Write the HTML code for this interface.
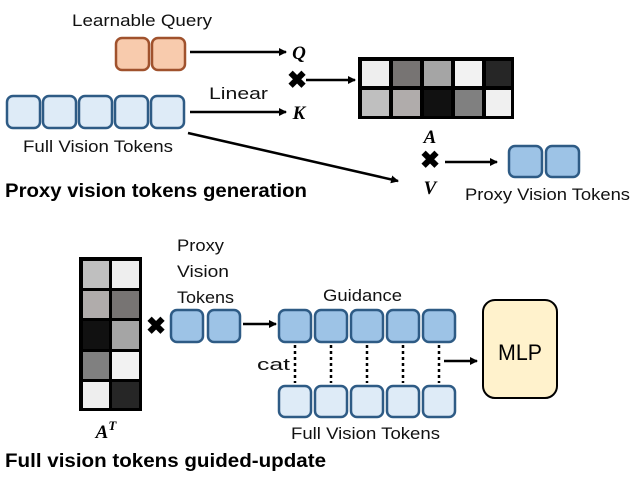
<!DOCTYPE html>
<html><head><meta charset="utf-8"><style>body{margin:0;background:#fff}</style></head><body>
<svg width="640" height="480" xmlns="http://www.w3.org/2000/svg" font-family="Liberation Sans, sans-serif">
<defs><marker id="ar" markerWidth="8" markerHeight="8" refX="7" refY="4" orient="auto" markerUnits="userSpaceOnUse"><path d="M0,0 L8,4 L0,8 z" fill="#000"/></marker></defs>
<g stroke="#000" stroke-width="2.5" fill="none" marker-end="url(#ar)">
<line x1="190" y1="52" x2="286" y2="52"/>
<line x1="190" y1="112" x2="286" y2="112"/>
<line x1="306" y1="80" x2="355" y2="80"/>
<line x1="188" y1="133" x2="398" y2="181"/>
<line x1="445" y1="162" x2="497" y2="162"/>
<line x1="243" y1="324" x2="276" y2="324"/>
<line x1="444" y1="361" x2="477" y2="361"/>
</g>
<g fill="#f8cbad" stroke="#a0522d" stroke-width="2.5">
<rect x="116" y="38" width="33" height="32" rx="6"/><rect x="152" y="38" width="33" height="32" rx="6"/></g>
<g fill="#deebf7" stroke="#2e5b85" stroke-width="2.5">
<rect x="7" y="96" width="33" height="32" rx="6"/><rect x="43" y="96" width="33" height="32" rx="6"/><rect x="79" y="96" width="33" height="32" rx="6"/><rect x="115" y="96" width="33" height="32" rx="6"/><rect x="151" y="96" width="33" height="32" rx="6"/>
<rect x="279" y="386" width="32" height="31" rx="6"/><rect x="315" y="386" width="32" height="31" rx="6"/><rect x="351" y="386" width="32" height="31" rx="6"/><rect x="387" y="386" width="32" height="31" rx="6"/><rect x="423" y="386" width="32" height="31" rx="6"/></g>
<g fill="#9dc3e6" stroke="#2e5b85" stroke-width="2.5">
<rect x="509" y="146" width="33" height="31" rx="6"/><rect x="546" y="146" width="33" height="31" rx="6"/>
<rect x="171" y="310" width="32" height="32" rx="6"/><rect x="208" y="310" width="32" height="32" rx="6"/>
<rect x="279" y="310" width="32" height="32" rx="6"/><rect x="315" y="310" width="32" height="32" rx="6"/><rect x="351" y="310" width="32" height="32" rx="6"/><rect x="387" y="310" width="32" height="32" rx="6"/><rect x="423" y="310" width="32" height="32" rx="6"/></g>
<g stroke="#000" stroke-width="2.5" stroke-dasharray="3,3">
<line x1="295" y1="345" x2="295" y2="383"/><line x1="331" y1="345" x2="331" y2="383"/><line x1="367" y1="345" x2="367" y2="383"/><line x1="403" y1="345" x2="403" y2="383"/><line x1="439" y1="345" x2="439" y2="383"/></g>
<rect x="358" y="57" width="156" height="62" fill="#000"/>
<g>
<rect x="362" y="61" width="27" height="25" fill="#eeeeee"/><rect x="393" y="61" width="27" height="25" fill="#777473"/><rect x="424" y="61" width="27" height="25" fill="#a5a5a5"/><rect x="455" y="61" width="27" height="25" fill="#f2f2f2"/><rect x="486" y="61" width="25" height="25" fill="#262626"/>
<rect x="362" y="90" width="27" height="26" fill="#bfbfbf"/><rect x="393" y="90" width="27" height="26" fill="#b0acab"/><rect x="424" y="90" width="27" height="26" fill="#111"/><rect x="455" y="90" width="27" height="26" fill="#808080"/><rect x="486" y="90" width="25" height="26" fill="#f0f0f0"/></g>
<rect x="79" y="257" width="63" height="154" fill="#000"/>
<rect x="83" y="261" width="26" height="27" fill="#bfbfbf"/><rect x="112" y="261" width="27" height="27" fill="#eeeeee"/>
<rect x="83" y="291" width="26" height="27" fill="#b0acab"/><rect x="112" y="291" width="27" height="27" fill="#777473"/>
<rect x="83" y="321" width="26" height="28" fill="#111"/><rect x="112" y="321" width="27" height="28" fill="#a5a5a5"/>
<rect x="83" y="352" width="26" height="27" fill="#808080"/><rect x="112" y="352" width="27" height="27" fill="#f2f2f2"/>
<rect x="83" y="382" width="26" height="26" fill="#eeeeee"/><rect x="112" y="382" width="27" height="26" fill="#262626"/>
<rect x="483" y="300" width="74" height="98" rx="12" fill="#fff2cc" stroke="#000" stroke-width="2"/>
<text x="498" y="360" font-size="22" textLength="44" lengthAdjust="spacingAndGlyphs">MLP</text>
<g font-size="24" font-weight="bold" text-anchor="middle">
<text x="297" y="88">✖</text><text x="430" y="168">✖</text><text x="156" y="334">✖</text></g>
<g font-family="Liberation Serif, serif" font-style="italic" font-weight="bold" font-size="19" text-anchor="middle">
<text x="299" y="59">Q</text><text x="299" y="119">K</text><text x="430" y="143">A</text><text x="430" y="194">V</text>
<text x="106" y="438">A<tspan font-size="13" dy="-8">T</tspan></text></g>
<g font-size="17" fill="#111" lengthAdjust="spacingAndGlyphs">
<text x="72" y="26" textLength="140" lengthAdjust="spacingAndGlyphs">Learnable Query</text>
<text x="209" y="99" textLength="59" lengthAdjust="spacingAndGlyphs">Linear</text>
<text x="23" y="152" textLength="150" lengthAdjust="spacingAndGlyphs">Full Vision Tokens</text>
<text x="465" y="200" textLength="165" lengthAdjust="spacingAndGlyphs">Proxy Vision Tokens</text>
<text x="177" y="251" textLength="47" lengthAdjust="spacingAndGlyphs">Proxy</text><text x="177" y="277" textLength="52" lengthAdjust="spacingAndGlyphs">Vision</text><text x="177" y="303" textLength="57" lengthAdjust="spacingAndGlyphs">Tokens</text>
<text x="323" y="301" textLength="79" lengthAdjust="spacingAndGlyphs">Guidance</text>
<text x="257" y="370" textLength="33" lengthAdjust="spacingAndGlyphs">cat</text>
<text x="291" y="439" textLength="149" lengthAdjust="spacingAndGlyphs">Full Vision Tokens</text></g>
<g font-size="19" font-weight="bold">
<text x="5" y="197" textLength="302" lengthAdjust="spacingAndGlyphs">Proxy vision tokens generation</text>
<text x="5" y="467" textLength="321" lengthAdjust="spacingAndGlyphs">Full vision tokens guided-update</text></g>
</svg>
</body></html>
